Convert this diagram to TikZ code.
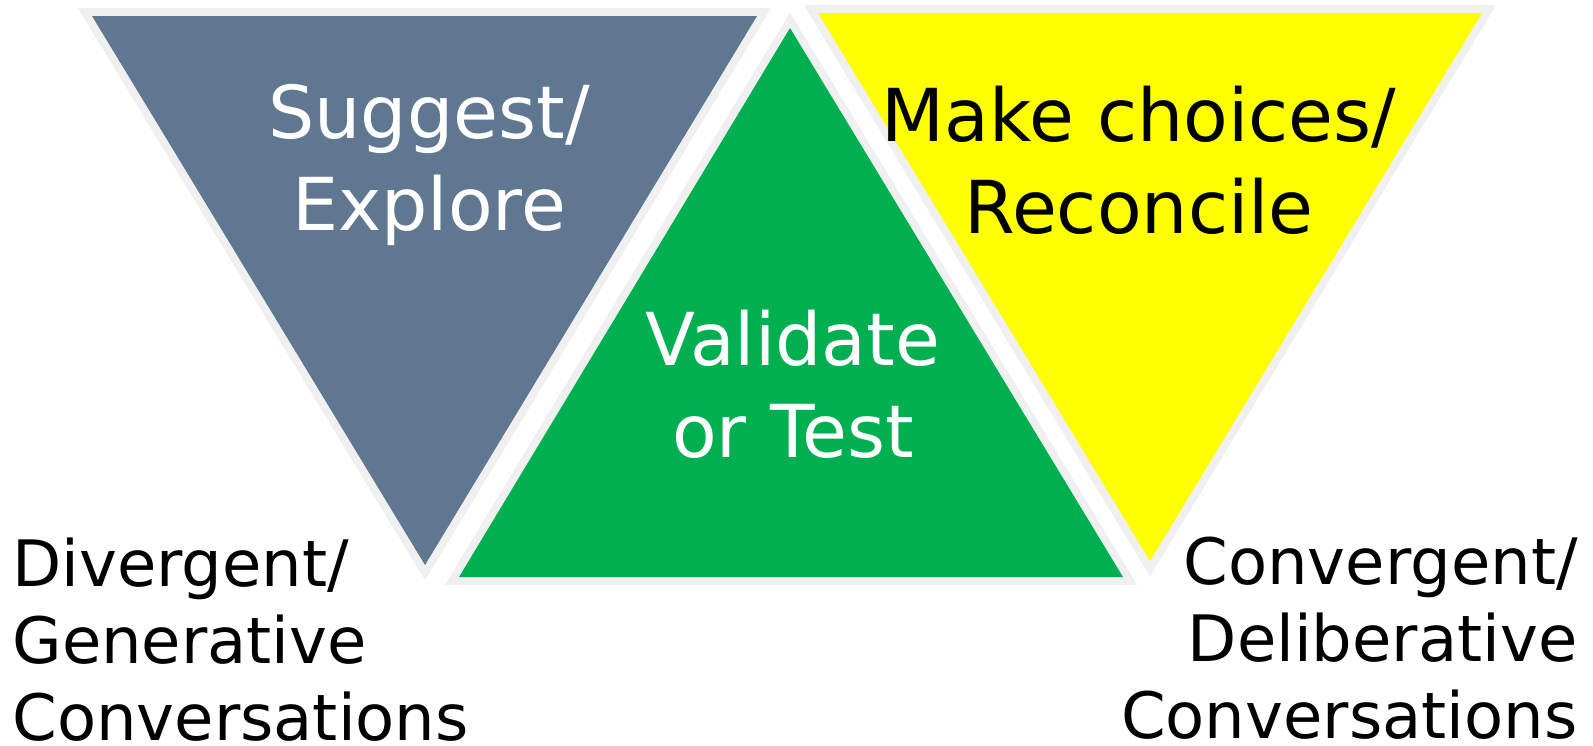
\documentclass[tikz,border=0pt]{standalone}
\usepackage{fontspec}
\setmainfont{DejaVu Sans}
\definecolor{slate}{RGB}{96,119,146}
\definecolor{leaf}{RGB}{0,176,80}
\definecolor{lemon}{RGB}{255,255,0}
\definecolor{rim}{RGB}{240,240,240}
\tikzset{
	tri/.style={fill=#1, preaction={draw=rim, line width=8pt, line join=miter}},
	inlabel/.style={anchor=base, align=center, inner sep=0pt, font=\fontsize{36.5}{46}\selectfont},
	outlabel/.style={inner sep=0pt, font=\fontsize{32}{38.5}\selectfont}
}
\begin{document}
\begin{tikzpicture}[x=0.5pt, y=-0.5pt]
		\useasboundingbox (0,0) rectangle (1593,745);
		\path[tri=slate] (92,16) -- (757,16) -- (425,565) -- cycle;
		\path[tri=leaf] (459,577) -- (1123,577) -- (790,28) -- cycle;
		\path[tri=lemon] (818,13) -- (1482,13) -- (1150,561) -- cycle;
		\node[inlabel, text=white] (suggest) at (429,230) {Suggest/\\Explore};
		\node[inlabel, text=white] (validate) at (793,457) {Validate\\or Test};
		\node[inlabel] (choices) at (1139,233) {Make choices/\\Reconcile};
		\node[outlabel, anchor=base west, align=left] (divergent) at (12,740) {Divergent/\\Generative\\Conversations};
		\node[outlabel, anchor=base east, align=right] (convergent) at (1578,738) {Convergent/\\Deliberative\\Conversations};
\end{tikzpicture}
\end{document}
